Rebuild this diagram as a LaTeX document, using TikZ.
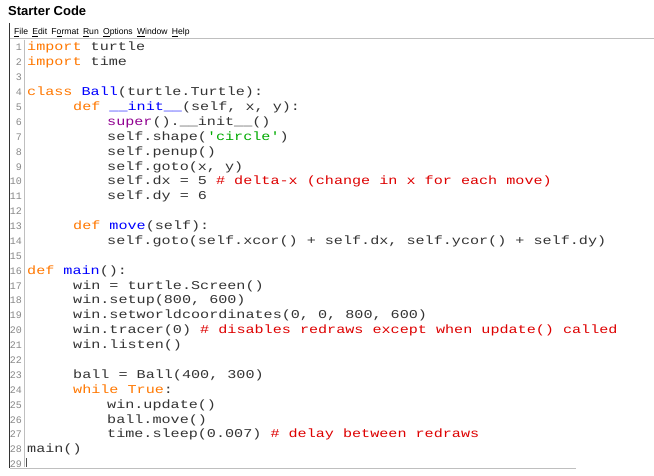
\documentclass[tikz,border=0pt]{standalone}
\usepackage{fontspec}
\setmainfont{Liberation Sans}
\newfontfamily\codef[FakeStretch=1.26]{Liberation Mono}
\newfontfamily\numf{Liberation Mono}
\definecolor{kw}{HTML}{FF7700}
\definecolor{nm}{HTML}{0000FF}
\definecolor{bi}{HTML}{900090}
\definecolor{st}{HTML}{00AA00}
\definecolor{cm}{HTML}{DD0000}
\definecolor{ln}{HTML}{888888}
\newcommand{\Kw}[1]{\textcolor{kw}{#1}}
\newcommand{\Nm}[1]{\textcolor{nm}{#1}}
\newcommand{\Bi}[1]{\textcolor{bi}{#1}}
\newcommand{\Str}[1]{\textcolor{st}{#1}}
\newcommand{\Cm}[1]{\textcolor{cm}{#1}}
\newcommand{\Qt}{\char"27}
\newcommand{\Ul}[1]{\underline{#1}}
\newcommand{\CodeLn}[3]{\node[codeline] (c#1) at ({#2},{51+(#1-1)*14.88}) {#3};}
\begin{document}
\begin{tikzpicture}[x=1pt,y=-1pt,
  codeline/.style={anchor=base west,inner sep=0,font=\codef\fontsize{12}{14}\selectfont,text=black!80},
  lnum/.style={anchor=base east,inner sep=0,font=\numf\fontsize{10}{12}\selectfont,text=ln},
  menu/.style={anchor=base west,inner sep=0,font=\fontsize{8.6}{10}\selectfont}]
\useasboundingbox (0,0) rectangle (654,476);
\node[anchor=base west,inner sep=0,font=\bfseries\fontsize{13}{15}\selectfont] (title) at (8,16) {Starter Code};
\draw[black!80,line width=0.8] (9.5,23) -- (9.5,468);
\draw[black!25,line width=1] (9.5,39) -- (654,39);
\draw[black!25,line width=1.5] (9.5,468.5) -- (576,468.5);
\draw[black!25,line width=0.8] (24,40) -- (24,467);
\node[menu] (menu) at (14,35) {\Ul{F}ile\enspace \Ul{E}dit\enspace F\Ul{o}rmat\enspace \Ul{R}un\enspace \Ul{O}ptions\enspace \Ul{W}indow\enspace \Ul{H}elp};
\foreach \n in {1,...,29} \node[lnum] (n\n) at (22,{51+(\n-1)*14.88}) {\n};
\CodeLn{1}{27}{\Kw{import} turtle}
\CodeLn{2}{27}{\Kw{import} time}
\CodeLn{4}{27}{\Kw{class} \Nm{Ball}(turtle.Turtle):}
\CodeLn{5}{73}{\Kw{def} \Nm{\_\_init\_\_}(self, x, y):}
\CodeLn{6}{107}{\Bi{super}().\_\_init\_\_()}
\CodeLn{7}{107}{self.shape(\Str{\Qt circle\Qt})}
\CodeLn{8}{107}{self.penup()}
\CodeLn{9}{107}{self.goto(x, y)}
\CodeLn{10}{107}{self.dx = 5 \Cm{\# delta-x (change in x for each move)}}
\CodeLn{11}{107}{self.dy = 6}
\CodeLn{13}{73}{\Kw{def} \Nm{move}(self):}
\CodeLn{14}{107}{self.goto(self.xcor() + self.dx, self.ycor() + self.dy)}
\CodeLn{16}{27}{\Kw{def} \Nm{main}():}
\CodeLn{17}{73}{win = turtle.Screen()}
\CodeLn{18}{73}{win.setup(800, 600)}
\CodeLn{19}{73}{win.setworldcoordinates(0, 0, 800, 600)}
\CodeLn{20}{73}{win.tracer(0) \Cm{\# disables redraws except when update() called}}
\CodeLn{21}{73}{win.listen()}
\CodeLn{23}{73}{ball = Ball(400, 300)}
\CodeLn{24}{73}{\Kw{while} \Kw{True}:}
\CodeLn{25}{107}{win.update()}
\CodeLn{26}{107}{ball.move()}
\CodeLn{27}{107}{time.sleep(0.007) \Cm{\# delay between redraws}}
\CodeLn{28}{27}{main()}
\draw[black!70,line width=0.5] (26.5,458) -- (26.5,467);
\end{tikzpicture}
\end{document}
